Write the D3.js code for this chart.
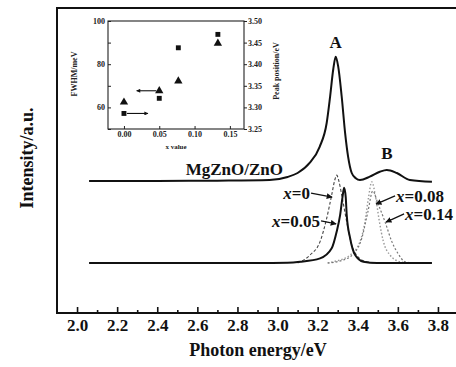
<!DOCTYPE html>
<html>
<head>
<meta charset="utf-8">
<script src="https://cdn.jsdelivr.net/npm/d3@7"></script>
<style>
  body { margin: 0; background: #fff; }
  svg { display: block; font-family: "Liberation Serif", "DejaVu Serif", serif; }
</style>
</head>
<body>
<svg id="chart" width="456" height="367"></svg>
<script>
// main spectra: [photon energy eV, intensity a.u.]
var mgznoZno = [[2.06,43.3],[2.4,43.3],[2.7,43.4],[2.96,43.6],[3.05,44.6],[3.10,45.9],[3.16,49.2],[3.21,54.5],
  [3.245,62.3],[3.262,70.9],[3.278,80],[3.29,84.0],[3.302,81],[3.32,70.9],[3.337,59.0],[3.352,51.2],[3.37,45.9],
  [3.39,44.2],[3.411,43.6],[3.46,44.7],[3.51,46.3],[3.545,46.9],[3.595,45.9],[3.66,43.6],[3.77,43.0]];
var x000 = [[3.10,16.4],[3.162,19],[3.212,23.4],[3.245,31],[3.27,38.7],[3.285,43.5],[3.295,45.2],[3.305,43.5],
  [3.32,38.7],[3.345,29.9],[3.37,22.3],[3.40,18.5],[3.445,16.8],[3.50,16.4]];
var x005 = [[2.06,16.4],[2.9,16.4],[3.05,16.5],[3.112,16.8],[3.212,17.9],[3.27,21.2],[3.295,26.7],[3.312,32.1],
  [3.325,38.5],[3.332,41.1],[3.34,38],[3.345,32.1],[3.362,24.5],[3.387,19.0],[3.428,16.8],[3.495,16.4],[3.77,16.4]];
var x008 = [[3.25,16.4],[3.277,16.8],[3.362,19],[3.411,23.4],[3.436,29.9],[3.453,37.6],[3.47,43.0],[3.49,37.6],
  [3.508,29.9],[3.528,23.4],[3.561,19],[3.611,16.8],[3.66,16.4]];
var x014 = [[3.25,16.4],[3.32,17.2],[3.38,19.5],[3.42,24.5],[3.45,33],[3.475,40],[3.50,36],[3.536,29.9],
  [3.57,23.4],[3.60,19.6],[3.636,16.8],[3.68,16.4]];

var xTicks = [2.0,2.2,2.4,2.6,2.8,3.0,3.2,3.4,3.6,3.8];

// inset: x value vs FWHM (triangles) and peak position (squares)
var xValues = [0, 0.05, 0.077, 0.133];
var fwhm = [62.4, 67.7, 72.2, 89.7];
var peakPos = [3.286, 3.321, 3.438, 3.469];
var insetXTicks = [0, 0.05, 0.10, 0.15];
var fwhmTicks = [50, 60, 70, 80, 90, 100];
var peakTicks = [3.25, 3.30, 3.35, 3.40, 3.45, 3.50];

var svg = d3.select("#chart");

var x = d3.scaleLinear().domain([1.9, 3.89]).range([57, 456]);
var y = d3.scaleLinear().domain([0, 100]).range([313, 8]);

// frame
svg.append("path")
  .attr("d", "M456," + y(100) + "H" + x(1.9) + "V" + y(0) + "H456")
  .attr("fill", "none").attr("stroke", "#111").attr("stroke-width", 2);

var gx = svg.append("g").attr("transform", "translate(0," + y(0) + ")")
  .call(d3.axisBottom(x).tickValues(xTicks).tickFormat(d3.format(".1f")).tickSizeInner(-6).tickSizeOuter(0).tickPadding(6));
gx.select(".domain").remove();
gx.selectAll("line").attr("stroke", "#111").attr("stroke-width", 1.6);
gx.selectAll("text").attr("font-size", 17).attr("font-weight", "bold").attr("fill", "#111")
  .attr("font-family", "Liberation Serif");

var gm = svg.append("g").attr("transform", "translate(0," + y(0) + ")")
  .call(d3.axisBottom(x).tickValues(xTicks.map(function(d){ return d + 0.1; })).tickFormat("").tickSizeInner(-3).tickSizeOuter(0));
gm.select(".domain").remove();
gm.selectAll("line").attr("stroke", "#111").attr("stroke-width", 1.6);

svg.append("text").attr("x", 258).attr("y", 356).attr("text-anchor", "middle")
  .attr("font-size", 18).attr("font-weight", "bold").attr("fill", "#111").text("Photon energy/eV");
svg.append("text").attr("transform", "translate(33,158) rotate(-90)").attr("text-anchor", "middle")
  .attr("font-size", 18).attr("font-weight", "bold").attr("fill", "#111").text("Intensity/a.u.");

var line = d3.line().x(function(d){ return x(d[0]); }).y(function(d){ return y(d[1]); }).curve(d3.curveMonotoneX);

var series = [
  { data: x008, color: "#999", width: 1.4, dash: "1.5,2" },
  { data: x014, color: "#777", width: 1.2, dash: "2,2" },
  { data: x000, color: "#444", width: 1.1, dash: "3,2" },
  { data: x005, color: "#111", width: 2, dash: null },
  { data: mgznoZno, color: "#111", width: 2, dash: null }
];
svg.selectAll(".spec").data(series).enter().append("path")
  .attr("class", "spec")
  .attr("d", function(d){ return line(d.data); })
  .attr("fill", "none")
  .attr("stroke", function(d){ return d.color; })
  .attr("stroke-width", function(d){ return d.width; })
  .attr("stroke-dasharray", function(d){ return d.dash; });

// labels
function label(e, i, txt, size, anchor) {
  return svg.append("text").attr("x", x(e)).attr("y", y(i)).attr("text-anchor", anchor || "middle")
    .attr("font-size", size).attr("font-weight", "bold").attr("fill", "#111").text(txt);
}
label(3.29, 86.9, "A", 17);
label(3.545, 50.5, "B", 17);
label(3.027, 45.2, "MgZnO/ZnO", 17, "end");

svg.append("defs").append("marker").attr("id", "ah").attr("viewBox", "0 0 10 10")
  .attr("refX", 9).attr("refY", 5).attr("markerWidth", 6).attr("markerHeight", 6)
  .attr("markerUnits", "userSpaceOnUse").attr("orient", "auto")
  .append("path").attr("d", "M0,0L10,5L0,10z").attr("fill", "#111");

var notes = [
  { txt: "0", from: [3.167, 39.3], to: [3.272, 38.0], anchor: "end" },
  { txt: "0.05", from: [3.217, 30.2], to: [3.292, 29.2], anchor: "end" },
  { txt: "0.08", from: [3.586, 38.4], to: [3.491, 35.7], anchor: "start" },
  { txt: "0.14", from: [3.631, 32.5], to: [3.541, 29.8], anchor: "start" }
];
notes.forEach(function(n) {
  var tx = x(n.from[0]) + (n.anchor === "end" ? -1 : 1);
  var t = svg.append("text").attr("x", tx).attr("y", y(n.from[1]) + 6).attr("text-anchor", n.anchor)
    .attr("font-size", 17).attr("font-weight", "bold").attr("fill", "#111");
  t.append("tspan").attr("font-style", "italic").text("x");
  t.append("tspan").text("=" + n.txt);
  svg.append("line").attr("x1", x(n.from[0])).attr("y1", y(n.from[1]))
    .attr("x2", x(n.to[0])).attr("y2", y(n.to[1]))
    .attr("stroke", "#111").attr("stroke-width", 1.3).attr("marker-end", "url(#ah)");
});

// inset
var xi = d3.scaleLinear().domain([-0.0226, 0.17]).range([108, 244]);
var yl = d3.scaleLinear().domain([50, 100]).range([129, 21]);
var yr = d3.scaleLinear().domain([3.25, 3.50]).range([129, 21]);
var inset = svg.append("g").attr("font-family", "Liberation Serif");

inset.append("rect").attr("x", 108).attr("y", 21).attr("width", 136).attr("height", 108)
  .attr("fill", "none").attr("stroke", "#222").attr("stroke-width", 1.1);

var gl = inset.append("g").attr("transform", "translate(108,0)")
  .call(d3.axisLeft(yl).tickValues(fwhmTicks).tickFormat(function(d){ return d % 20 === 0 ? d : ""; }).tickSizeInner(-3).tickSizeOuter(0).tickPadding(3));
var gr = inset.append("g").attr("transform", "translate(244,0)")
  .call(d3.axisRight(yr).tickValues(peakTicks).tickFormat(d3.format(".2f")).tickSizeInner(3).tickSizeOuter(0).tickPadding(1));
var gb = inset.append("g").attr("transform", "translate(0,129)")
  .call(d3.axisBottom(xi).tickValues(insetXTicks).tickFormat(d3.format(".2f")).tickSizeInner(-3).tickSizeOuter(0).tickPadding(2));
[gl, gr, gb].forEach(function(g) {
  g.select(".domain").remove();
  g.selectAll("line").attr("stroke", "#222");
  g.selectAll("text").attr("font-size", 8).attr("font-weight", "bold").attr("fill", "#222")
    .attr("font-family", "Liberation Serif");
});

inset.append("text").attr("transform", "translate(77,74) rotate(-90)").attr("text-anchor", "middle")
  .attr("font-size", 8).attr("font-weight", "bold").attr("fill", "#222").text("FWHM/meV");
inset.append("text").attr("transform", "translate(279,71) rotate(-90)").attr("text-anchor", "middle")
  .attr("font-size", 8).attr("font-weight", "bold").attr("fill", "#222").text("Peak position/eV");
inset.append("text").attr("x", 176).attr("y", 149).attr("text-anchor", "middle")
  .attr("font-size", 7).attr("font-weight", "bold").attr("fill", "#222").text("x value");

inset.selectAll(".tri").data(xValues).enter().append("path").attr("class", "tri")
  .attr("transform", function(d, i){ return "translate(" + xi(d) + "," + yl(fwhm[i]) + ")"; })
  .attr("d", d3.symbol().type(d3.symbolTriangle).size(30)).attr("fill", "#111");
inset.selectAll(".sq").data(xValues).enter().append("path").attr("class", "sq")
  .attr("transform", function(d, i){ return "translate(" + xi(d) + "," + yr(peakPos[i]) + ")"; })
  .attr("d", d3.symbol().type(d3.symbolSquare).size(24)).attr("fill", "#111");

inset.append("defs").append("marker").attr("id", "ah2").attr("viewBox", "0 0 10 10")
  .attr("refX", 9).attr("refY", 5).attr("markerWidth", 5).attr("markerHeight", 4)
  .attr("markerUnits", "userSpaceOnUse").attr("orient", "auto")
  .append("path").attr("d", "M0,0L10,5L0,10z").attr("fill", "#111");
inset.append("line").attr("x1", xi(xValues[0]) + 3).attr("y1", yr(peakPos[0]))
  .attr("x2", xi(0.034)).attr("y2", yr(peakPos[0]))
  .attr("stroke", "#111").attr("stroke-width", 1.1).attr("marker-end", "url(#ah2)");
inset.append("line").attr("x1", xi(xValues[1]) - 3).attr("y1", yl(fwhm[1]))
  .attr("x2", xi(0.018)).attr("y2", yl(fwhm[1]))
  .attr("stroke", "#111").attr("stroke-width", 1.1).attr("marker-end", "url(#ah2)");
</script>
</body>
</html>
